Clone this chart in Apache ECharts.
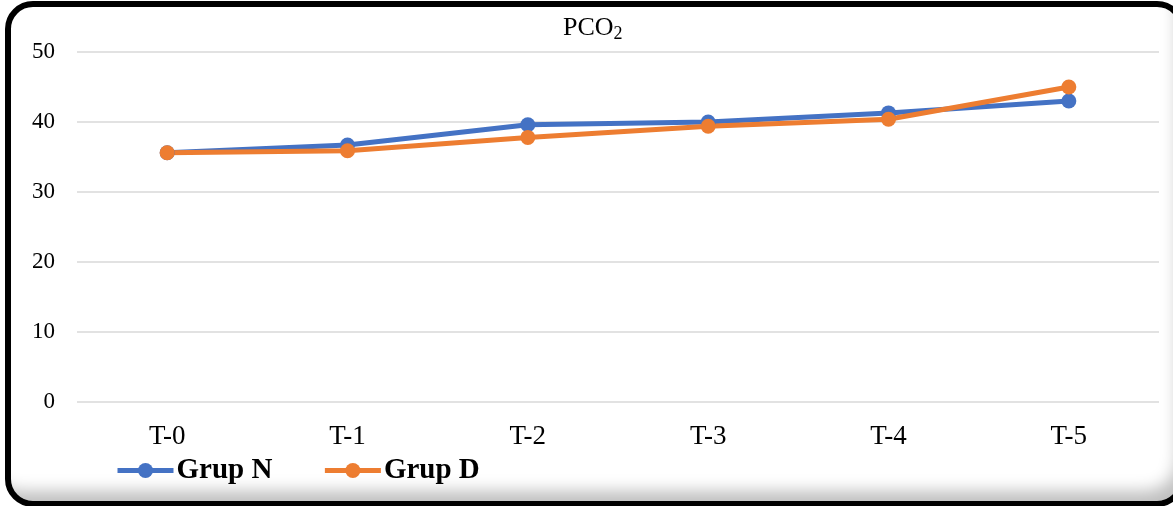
<!DOCTYPE html>
<html>
<head>
<meta charset="utf-8">
<title>PCO2</title>
<script src="https://cdn.jsdelivr.net/npm/echarts@6/dist/echarts.min.js"></script>
<style>
  html, body { margin: 0; padding: 0; background: #fff; overflow: hidden; }
  #chart { position: absolute; left: 0; top: 0; width: 1173px; height: 506px; }
  #frame {
    position: absolute; left: 5px; top: 1px; width: 1180px; height: 506px;
    box-sizing: border-box; border: 6px solid #000; border-radius: 28px;
    box-shadow: inset -12px -20px 16px -10px rgba(0,0,0,0.25);
    pointer-events: none;
  }
</style>
</head>
<body>
<div id="chart"></div>
<div id="frame"></div>
<script>
// Time points and measured PCO2 per group
const categories = ['T-0', 'T-1', 'T-2', 'T-3', 'T-4', 'T-5'];
const grupN = [35.6, 36.7, 39.6, 40.0, 41.3, 43.0];
const grupD = [35.6, 35.9, 37.8, 39.4, 40.4, 45.0];
const seriesNames = ['Grup N', 'Grup D'];
const colors = ['#4472C4', '#ED7D31'];

const serif = '"Liberation Serif", "Times New Roman", serif';

const chart = echarts.init(document.getElementById('chart'), null, { renderer: 'canvas' });

function lineSeries(name, data, color) {
  return {
    name: name,
    type: 'line',
    data: data,
    symbol: 'circle',
    symbolSize: 15,
    lineStyle: { width: 5, color: color },
    itemStyle: { color: color },
    emphasis: { disabled: true }
  };
}

chart.setOption({
  animation: false,
  backgroundColor: '#fff',
  color: colors,
  title: {
    text: 'PCO{sub|2}',
    left: 558,
    top: 8,
    padding: 5,
    textStyle: {
      fontFamily: serif, fontSize: 26, fontWeight: 'normal', color: '#000', lineHeight: 30,
      rich: {
        sub: { fontFamily: serif, fontSize: 18, fontWeight: 'normal', color: '#000', lineHeight: 30, verticalAlign: 'bottom', padding: [12, 0, 0, 0] }
      }
    }
  },
  legend: {
    left: 110,
    top: 451,
    itemWidth: 56,
    itemHeight: 19,
    itemGap: 50,
    lineStyle: { width: 5 },
    textStyle: { fontFamily: serif, fontSize: 29, fontWeight: 'bold', color: '#000', padding: [0, 0, 0, -2] },
    data: seriesNames
  },
  grid: { left: 77, right: 14, top: 52, bottom: 104, containLabel: false },
  xAxis: {
    type: 'category',
    data: categories,
    boundaryGap: true,
    axisLine: { show: false },
    axisTick: { show: false },
    axisLabel: { fontFamily: serif, fontSize: 27, color: '#000', margin: 21 }
  },
  yAxis: {
    type: 'value',
    min: 0, max: 50, interval: 10,
    axisLine: { show: false },
    axisTick: { show: false },
    splitLine: { lineStyle: { color: '#d9d9d9', width: 1.5 } },
    axisLabel: { fontFamily: serif, fontSize: 23, color: '#000', margin: 22 }
  },
  series: [
    lineSeries(seriesNames[0], grupN, colors[0]),
    lineSeries(seriesNames[1], grupD, colors[1])
  ]
});
</script>
</body>
</html>
